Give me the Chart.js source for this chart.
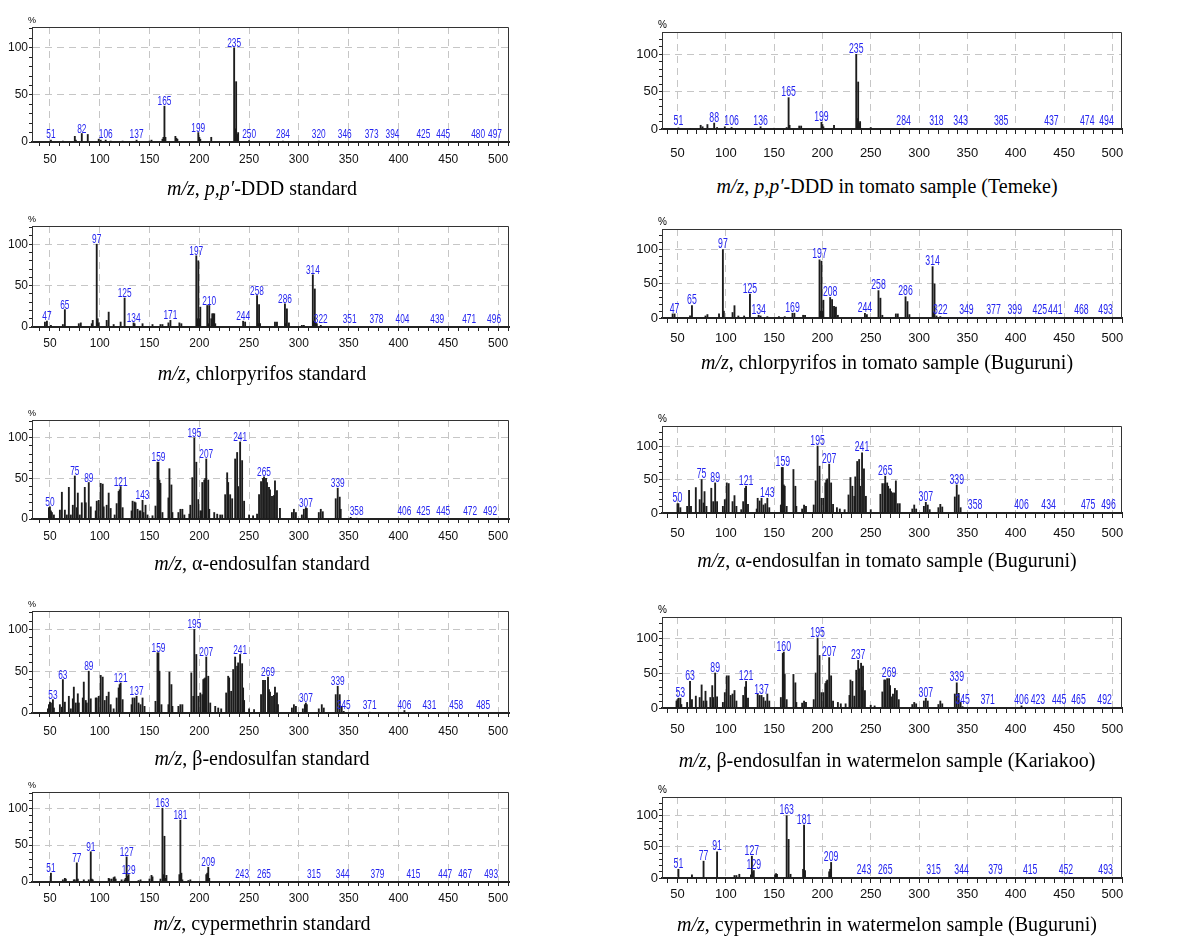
<!DOCTYPE html>
<html>
<head>
<meta charset="utf-8">
<script src="https://cdn.jsdelivr.net/npm/chart.js@4.4.0/dist/chart.umd.min.js"></script>
<style>
  body { margin: 0; background: #fff; width: 1193px; height: 936px; position: relative; overflow: hidden; }
  .panel { position: absolute; }
  .cap { position: absolute; font-family: "Liberation Serif", "Times New Roman", serif; font-size: 20px;
         white-space: nowrap; transform: translate(-50%, -50%); color: #000; }
</style>
</head>
<body>
<script>
// axis ticks
const xTickValues = [40, 50, 60, 70, 80, 90, 100, 110, 120, 130, 140, 150, 160, 170, 180, 190, 200, 210, 220, 230,
  240, 250, 260, 270, 280, 290, 300, 310, 320, 330, 340, 350, 360, 370, 380, 390, 400, 410, 420, 430, 440, 450,
  460, 470, 480, 490, 500, 510];
const xLabelValues = [50, 100, 150, 200, 250, 300, 350, 400, 450, 500];
const yTickValues = [0, 10, 20, 30, 40, 50, 60, 70, 80, 90, 100, 110, 120];
const yLabelValues = [0, 50, 100];

// peaks as [m/z, relative abundance %]
const dddStdPeaks = [[51, 2], [63, 1], [75, 6], [76, 2], [82, 9], [88, 8], [99, 3], [101, 2], [106, 2], [111, 1],
  [123, 1], [137, 2], [150, 1], [152, 2], [163, 3], [164, 5], [165, 38], [166, 5], [176, 6], [177, 4], [178, 3],
  [199, 10], [200, 5], [201, 3], [212, 5], [235, 100], [236, 14], [237, 64], [238, 8], [239, 10], [250, 1.5],
  [284, 1], [320, 1]];
const dddStdTags = [51, 82, 106, 137, 165, 199, 235, 250, 284, 320, 346, 373, 394, 425, 445, 480, 497];

const dddTomPeaks = [[51, 1.5], [63, 1], [74, 5], [76, 3], [81, 6], [88, 8], [91, 2], [99, 3], [106, 2], [136, 3],
  [150, 1], [163, 2], [165, 42], [166, 5], [176, 4], [178, 4], [199, 9], [200, 6], [201, 3], [212, 5],
  [235, 100], [236, 14], [237, 63], [238, 8], [239, 10], [250, 2], [284, 1]];
const dddTomTags = [51, 88, 106, 136, 165, 199, 235, 284, 318, 343, 385, 437, 474, 494];

const chlStdPeaks = [[45, 6], [47, 7], [51, 2], [63, 3], [65, 21], [79, 4], [81, 5], [92, 4], [93, 8], [97, 100],
  [98, 10], [99, 5], [107, 8], [109, 18], [114, 3], [121, 6], [125, 35], [134, 5], [135, 4], [143, 4], [153, 3],
  [161, 3], [163, 3], [169, 5], [171, 8], [180, 5], [182, 4], [197, 86], [198, 10], [199, 80], [200, 10],
  [201, 24], [208, 26], [209, 4], [210, 26], [212, 10], [213, 16], [214, 16], [215, 16], [216, 4], [244, 7],
  [246, 6], [258, 38], [259, 4], [260, 27], [261, 4], [276, 6], [278, 6], [286, 28], [287, 4], [288, 22],
  [290, 5], [303, 2], [305, 2], [314, 63], [315, 7], [316, 46], [317, 5], [318, 4], [322, 2]];
const chlStdTags = [47, 65, 97, 125, 134, 171, 197, 210, 244, 258, 286, 314, 322, 351, 378, 404, 439, 471, 496];

const chlTomPeaks = [[45, 6], [47, 6], [63, 3], [65, 18], [79, 3], [81, 5], [93, 6], [97, 100], [98, 10], [107, 8],
  [109, 18], [113, 3], [119, 3], [125, 35], [134, 4], [136, 3], [143, 2], [155, 2], [161, 2], [169, 7], [171, 7],
  [180, 4], [182, 4], [197, 85], [198, 10], [199, 83], [200, 10], [201, 26], [208, 30], [210, 27], [212, 17],
  [213, 14], [214, 16], [216, 4], [244, 7], [246, 5], [258, 40], [260, 29], [262, 4], [276, 6], [278, 6],
  [286, 31], [288, 24], [290, 5], [314, 75], [315, 8], [316, 50], [318, 3], [322, 2]];
const chlTomTags = [47, 65, 97, 125, 134, 169, 197, 208, 244, 258, 286, 314, 322, 349, 377, 399, 425, 441, 468, 493];

const aEndoStdPeaks = [[49, 14], [50, 15], [51, 10], [52, 8], [54, 5], [60, 11], [62, 33], [65, 11], [67, 5],
  [69, 39], [71, 5], [73, 17], [75, 53], [77, 14], [78, 32], [80, 5], [82, 20], [85, 39], [86, 20], [89, 45],
  [91, 15], [96, 10], [97, 22], [99, 23], [101, 44], [103, 43], [104, 15], [107, 17], [109, 32], [111, 13],
  [115, 5], [117, 19], [119, 34], [120, 36], [121, 40], [123, 14], [132, 10], [133, 22], [135, 21], [136, 20],
  [138, 12], [140, 10], [141, 10], [143, 23], [144, 8], [146, 17], [148, 5], [153, 4], [156, 16], [158, 70],
  [159, 70], [160, 48], [161, 44], [163, 8], [169, 26], [170, 62], [172, 42], [173, 8], [179, 8], [181, 12],
  [183, 12], [185, 5], [190, 6], [191, 17], [193, 51], [195, 100], [197, 70], [199, 24], [201, 10], [202, 10],
  [203, 45], [205, 48], [206, 50], [207, 74], [209, 48], [210, 12], [215, 8], [218, 6], [221, 5], [223, 5],
  [226, 30], [228, 57], [229, 45], [231, 30], [233, 25], [236, 74], [238, 82], [239, 40], [241, 95], [243, 72],
  [245, 22], [250, 5], [254, 4], [258, 6], [260, 30], [262, 46], [264, 50], [265, 52], [267, 50], [268, 45],
  [270, 39], [271, 36], [273, 28], [275, 29], [276, 47], [278, 35], [281, 13], [293, 8], [295, 12], [297, 8],
  [303, 5], [305, 12], [307, 14], [308, 13], [320, 8], [322, 12], [324, 9], [337, 25], [339, 38], [341, 27],
  [342, 12], [352, 2], [358, 1]];
const aEndoStdTags = [50, 75, 89, 121, 143, 159, 195, 207, 241, 265, 307, 339, 358, 406, 425, 445, 472, 492];

const aEndoTomPeaks = [[50, 14], [51, 14], [53, 8], [60, 10], [62, 34], [64, 10], [69, 38], [73, 20], [75, 50],
  [77, 15], [78, 32], [80, 10], [85, 37], [87, 17], [89, 45], [91, 17], [97, 10], [99, 20], [101, 45], [103, 44],
  [107, 17], [109, 26], [111, 10], [116, 5], [118, 17], [120, 37], [121, 40], [123, 13], [132, 6], [133, 22],
  [135, 18], [137, 22], [139, 12], [141, 14], [143, 22], [145, 8], [157, 12], [158, 68], [159, 68], [160, 42],
  [161, 40], [163, 10], [170, 65], [172, 40], [173, 10], [179, 6], [181, 12], [183, 10], [191, 12], [193, 48],
  [195, 100], [197, 70], [199, 22], [201, 22], [203, 45], [204, 49], [205, 51], [207, 73], [209, 45], [211, 13],
  [215, 8], [218, 6], [223, 5], [227, 27], [229, 53], [231, 40], [233, 25], [234, 54], [236, 77], [238, 80],
  [239, 40], [241, 90], [243, 66], [245, 25], [250, 5], [260, 28], [262, 44], [264, 44], [265, 55], [267, 45],
  [268, 40], [270, 36], [271, 32], [273, 30], [275, 30], [276, 48], [278, 14], [280, 14], [293, 6], [295, 12],
  [297, 6], [305, 10], [307, 16], [309, 12], [311, 5], [320, 8], [322, 13], [324, 9], [337, 24], [339, 42],
  [341, 27], [343, 8], [358, 1]];
const aEndoTomTags = [50, 75, 89, 121, 143, 159, 195, 207, 241, 265, 307, 339, 358, 406, 434, 475, 496];

const bEndoStdPeaks = [[48, 5], [49, 10], [50, 13], [51, 12], [53, 16], [54, 6], [60, 10], [62, 7], [63, 40],
  [65, 13], [69, 20], [71, 5], [73, 17], [74, 31], [76, 12], [78, 23], [79, 12], [83, 18], [84, 37], [86, 15],
  [87, 12], [89, 50], [91, 17], [96, 18], [97, 18], [99, 20], [101, 45], [103, 43], [105, 15], [107, 20],
  [109, 25], [111, 10], [114, 5], [117, 18], [119, 30], [120, 34], [121, 36], [123, 16], [132, 10], [133, 18],
  [135, 18], [137, 20], [139, 12], [141, 10], [143, 18], [145, 8], [156, 14], [158, 72], [159, 72], [160, 50],
  [162, 10], [169, 10], [170, 49], [172, 34], [173, 8], [179, 8], [181, 10], [183, 10], [192, 48], [194, 20],
  [195, 100], [197, 70], [199, 20], [201, 24], [203, 22], [204, 40], [205, 41], [206, 42], [207, 67], [209, 44],
  [211, 12], [216, 8], [219, 6], [222, 5], [227, 24], [229, 44], [230, 42], [232, 26], [234, 52], [236, 67],
  [238, 56], [239, 60], [241, 70], [243, 59], [244, 30], [245, 15], [250, 5], [255, 4], [262, 22], [264, 39],
  [266, 39], [269, 43], [270, 28], [271, 25], [273, 20], [275, 21], [276, 31], [278, 24], [279, 10], [293, 6],
  [295, 10], [297, 8], [304, 5], [306, 10], [307, 12], [308, 10], [320, 5], [323, 10], [325, 6], [337, 22],
  [339, 32], [341, 22], [343, 8], [345, 2], [371, 1], [406, 3]];
const bEndoStdTags = [53, 63, 89, 121, 137, 159, 195, 207, 241, 269, 307, 339, 345, 371, 406, 431, 458, 485];

const bEndoMelPeaks = [[49, 10], [50, 12], [51, 14], [53, 14], [54, 5], [60, 8], [63, 38], [65, 12], [69, 17],
  [73, 15], [75, 33], [77, 10], [79, 24], [80, 10], [84, 15], [86, 32], [87, 15], [89, 50], [91, 16], [97, 8],
  [99, 22], [101, 46], [103, 46], [105, 18], [107, 20], [109, 25], [111, 10], [118, 18], [120, 30], [121, 38],
  [123, 14], [133, 20], [135, 18], [137, 18], [139, 15], [141, 10], [143, 20], [145, 10], [157, 15], [159, 78],
  [160, 80], [161, 48], [163, 12], [170, 48], [172, 36], [173, 8], [179, 7], [181, 10], [183, 8], [191, 12],
  [193, 50], [195, 100], [197, 75], [199, 22], [201, 22], [203, 35], [204, 38], [205, 40], [207, 72], [209, 46],
  [211, 10], [216, 8], [219, 6], [224, 6], [228, 18], [229, 40], [231, 38], [233, 17], [235, 54], [237, 68],
  [238, 56], [240, 64], [241, 30], [242, 60], [244, 25], [250, 4], [254, 3], [262, 23], [264, 40], [265, 40],
  [267, 42], [269, 42], [270, 32], [272, 16], [273, 20], [275, 28], [277, 25], [279, 12], [293, 5], [295, 8],
  [297, 6], [305, 10], [307, 14], [309, 10], [320, 5], [322, 10], [324, 6], [337, 20], [339, 36], [341, 21],
  [343, 8], [345, 2], [371, 1], [406, 3], [423, 1]];
const bEndoMelTags = [53, 63, 89, 121, 137, 160, 195, 207, 237, 269, 307, 339, 345, 371, 406, 423, 445, 465, 492];

const cypStdPeaks = [[51, 12], [63, 3], [65, 5], [66, 4], [74, 3], [75, 3], [77, 26], [78, 4], [84, 3], [89, 3],
  [91, 41], [92, 4], [93, 3], [109, 5], [110, 4], [112, 4], [114, 6], [115, 7], [116, 4], [122, 3], [125, 3],
  [126, 5], [127, 34], [128, 8], [129, 10], [139, 2], [141, 3], [150, 4], [152, 9], [153, 7], [161, 4],
  [163, 100], [164, 10], [165, 62], [166, 5], [167, 9], [180, 10], [181, 84], [182, 12], [183, 3], [189, 2],
  [191, 3], [207, 10], [208, 12], [209, 20], [210, 5], [243, 1], [265, 1]];
const cypStdTags = [51, 77, 91, 127, 129, 163, 181, 209, 243, 265, 315, 344, 379, 415, 447, 467, 493];

const cypMelPeaks = [[51, 14], [65, 5], [77, 27], [91, 42], [109, 4], [111, 4], [114, 6], [126, 5], [127, 35],
  [128, 10], [129, 12], [151, 5], [152, 7], [153, 6], [163, 100], [165, 62], [167, 6], [180, 14], [181, 85],
  [182, 12], [207, 10], [208, 14], [209, 25]];
const cypMelTags = [51, 77, 91, 127, 129, 163, 181, 209, 243, 265, 315, 344, 379, 415, 452, 493];

const captions = [
  '<i>m/z</i>, <i>p,p\u2032</i>-DDD standard',
  '<i>m/z</i>, <i>p,p\u2032</i>-DDD in tomato sample (Temeke)',
  '<i>m/z</i>, chlorpyrifos standard',
  '<i>m/z</i>, chlorpyrifos in tomato sample (Buguruni)',
  '<i>m/z</i>, \u03b1-endosulfan standard',
  '<i>m/z</i>, \u03b1-endosulfan in tomato sample (Buguruni)',
  '<i>m/z</i>, \u03b2-endosulfan standard',
  '<i>m/z</i>, \u03b2-endosulfan in watermelon sample (Kariakoo)',
  '<i>m/z</i>, cypermethrin standard',
  '<i>m/z</i>, cypermethrin in watermelon sample (Buguruni)'
];

const narrow = '"Liberation Sans Narrow", "Liberation Sans", Arial, sans-serif';

// column geometry (left / right)
const cols = [
  { left: 32, right: 509, xMin: 32, xMax: 511, yMax: 122, axisW: 32, padR: 8, tickFont: 12, tickLen: 4,
    tagFont: 13, tagSquash: 0.64, pctFont: 9, capX: 262 },
  { left: 662, right: 1122, xMin: 34, xMax: 510, yMax: 130, axisW: 40, padR: 10, tickFont: 13, tickLen: 5,
    tagFont: 15, tagSquash: 0.58, pctFont: 10, capX: 887 }
];

const panels = [
  { peaks: dddStdPeaks, tags: dddStdTags, col: 0, top: 27, bottom: 142, labPad: 6, capY: 188 },
  { peaks: dddTomPeaks, tags: dddTomTags, col: 1, top: 32, bottom: 129, labPad: 12, capY: 186 },
  { peaks: chlStdPeaks, tags: chlStdTags, col: 0, top: 226, bottom: 327, labPad: 5, capY: 373 },
  { peaks: chlTomPeaks, tags: chlTomTags, col: 1, top: 229, bottom: 318, labPad: 8, capY: 362 },
  { peaks: aEndoStdPeaks, tags: aEndoStdTags, col: 0, top: 420, bottom: 519, labPad: 6, capY: 563 },
  { peaks: aEndoTomPeaks, tags: aEndoTomTags, col: 1, top: 426, bottom: 513, labPad: 8, capY: 560 },
  { peaks: bEndoStdPeaks, tags: bEndoStdTags, col: 0, top: 611, bottom: 713, labPad: 7, capY: 758 },
  { peaks: bEndoMelPeaks, tags: bEndoMelTags, col: 1, top: 617, bottom: 708, labPad: 9, capY: 760 },
  { peaks: cypStdPeaks, tags: cypStdTags, col: 0, top: 792, bottom: 882, labPad: 5, capY: 923 },
  { peaks: cypMelPeaks, tags: cypMelTags, col: 1, top: 797, bottom: 878, labPad: 4, capY: 924 }
];

const topPad = 16;
const xAxisH = 36;

function labelPlugin(p, c) {
  return {
    id: 'frameAndTags',
    afterDraw(chart) {
      const { ctx, chartArea: a, scales } = chart;
      ctx.save();
      // top and right edges of the box
      ctx.strokeStyle = '#333';
      ctx.lineWidth = 1;
      ctx.beginPath();
      ctx.moveTo(a.left, a.top + 0.5);
      ctx.lineTo(a.right - 0.5, a.top + 0.5);
      ctx.lineTo(a.right - 0.5, a.bottom);
      ctx.stroke();

      ctx.fillStyle = '#000';
      ctx.font = c.pctFont + 'px ' + narrow;
      ctx.textAlign = 'left';
      ctx.textBaseline = 'bottom';
      ctx.fillText('%', a.left - 4, a.top - 2);

      // peak m/z labels, squeezed sideways like the instrument print-out
      ctx.fillStyle = '#2424f0';
      ctx.font = c.tagFont + 'px ' + narrow;
      ctx.textAlign = 'center';
      p.tags.forEach(m => {
        const hit = p.peaks.find(q => q[0] === m);
        const v = hit ? hit[1] : 0;
        const px = scales.x.getPixelForValue(m);
        const py = Math.min(scales.y.getPixelForValue(v) + 2, a.bottom - 1);
        ctx.save();
        ctx.translate(px, py);
        ctx.scale(c.tagSquash, 1);
        ctx.fillText(String(m), 0, 0);
        ctx.restore();
      });
      ctx.restore();
    }
  };
}

function makePanel(p, i) {
  const c = cols[p.col];
  const left = c.left - c.axisW;
  const w = c.right - left + c.padR;
  const h = topPad + (p.bottom - p.top) + xAxisH;

  const div = document.createElement('div');
  div.className = 'panel';
  div.style.left = left + 'px';
  div.style.top = (p.top - topPad) + 'px';
  const cv = document.createElement('canvas');
  cv.width = w;
  cv.height = h;
  div.appendChild(cv);
  document.body.appendChild(div);

  const cap = document.createElement('div');
  cap.className = 'cap';
  cap.style.left = c.capX + 'px';
  cap.style.top = p.capY + 'px';
  cap.innerHTML = captions[i];
  document.body.appendChild(cap);

  new Chart(cv, {
    type: 'bar',
    data: {
      datasets: [{
        data: p.peaks.map(q => ({ x: q[0], y: q[1] })),
        backgroundColor: '#1c1c1c',
        barThickness: 1.2
      }]
    },
    options: {
      responsive: false,
      animation: false,
      events: [],
      layout: { padding: { top: topPad, right: c.padR, left: 0, bottom: 0 } },
      plugins: { legend: { display: false }, tooltip: { enabled: false } },
      scales: {
        x: {
          type: 'linear', min: c.xMin, max: c.xMax, offset: false,
          afterBuildTicks: s => { s.ticks = xTickValues.map(v => ({ value: v })); },
          afterFit: s => { s.height = xAxisH; s.paddingLeft = 0; s.paddingRight = 0; },
          border: { color: '#222', width: 2, dash: [7, 5] },
          grid: {
            offset: false,
            color: g => (g.tick && g.tick.value % 50 === 0) ? '#c6c6c6' : 'rgba(0,0,0,0)',
            tickColor: '#222',
            tickLength: c.tickLen
          },
          ticks: {
            autoSkip: false, maxRotation: 0, minRotation: 0, padding: p.labPad, color: '#111',
            font: { family: narrow, size: c.tickFont },
            callback: v => xLabelValues.includes(v) ? String(v) : ''
          }
        },
        y: {
          type: 'linear', min: 0, max: c.yMax,
          afterBuildTicks: s => { s.ticks = yTickValues.map(v => ({ value: v })); },
          afterFit: s => { s.width = c.axisW; s.paddingTop = 0; s.paddingBottom = 0; },
          border: { color: '#333', width: 1, dash: [7, 5] },
          grid: {
            color: g => (g.tick && g.tick.value > 0 && g.tick.value % 50 === 0) ? '#c6c6c6' : 'rgba(0,0,0,0)',
            tickColor: '#222',
            tickLength: 3
          },
          ticks: {
            autoSkip: false, padding: 1, color: '#111',
            font: { family: narrow, size: c.tickFont },
            callback: v => yLabelValues.includes(v) ? String(v) : ''
          }
        }
      }
    },
    plugins: [labelPlugin(p, c)]
  });
}

panels.forEach(makePanel);
</script>
</body>
</html>
